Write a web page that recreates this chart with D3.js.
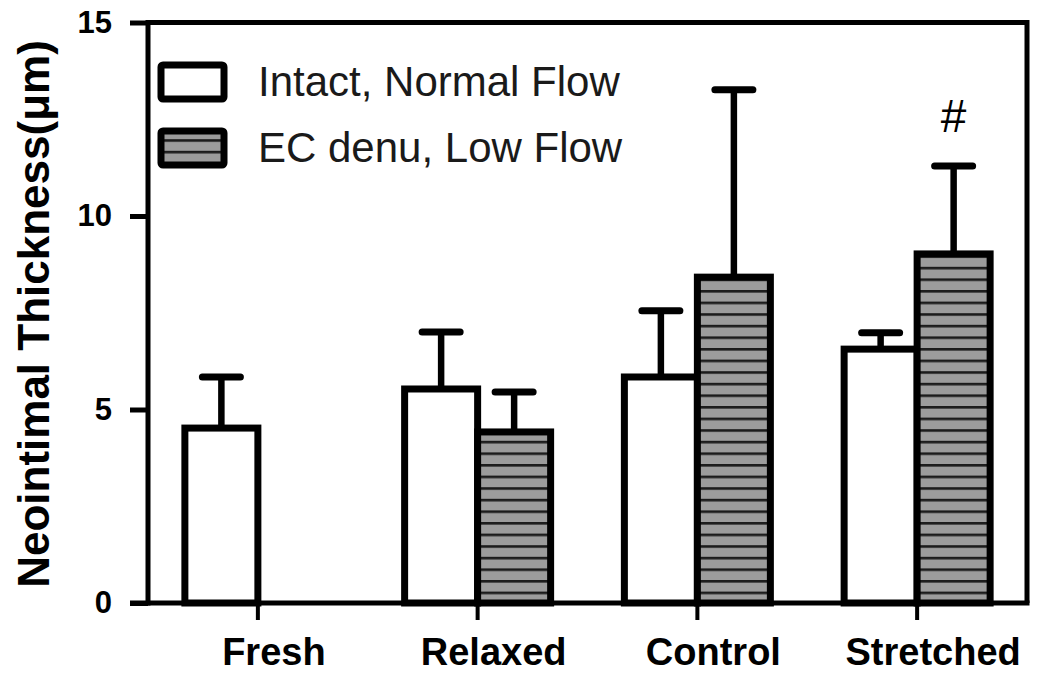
<!DOCTYPE html>
<html>
<head>
<meta charset="utf-8">
<script src="https://cdn.jsdelivr.net/npm/d3@7"></script>
<style>
  html, body { margin: 0; padding: 0; background: #fff; }
  svg { display: block; }
  text { font-family: "Liberation Sans", Arial, sans-serif; }
</style>
</head>
<body>
<svg id="chart" width="1050" height="679"></svg>
<script>
// ---- data ----
const categories = ["Fresh", "Relaxed", "Control", "Stretched"];
const seriesNames = ["Intact, Normal Flow", "EC denu, Low Flow"];
const intactMean = [4.52, 5.53, 5.84, 6.56];
const intactSD   = [1.32, 1.47, 1.71, 0.42];
const denuMean   = [null, 4.42, 8.42, 9.02];
const denuSD     = [null, 1.03, 4.84, 2.27];
const yTicks = [0, 5, 10, 15];
const significance = [null, null, null, "#"];
const yTitle = "Neointimal Thickness(\u03bcm)";

// ---- layout ----
const svg = d3.select("#chart");
const mLeft = 148, mRight = 1027, mTop = 22.5, mBottom = 603;
const barW = 73;

const x = d3.scaleBand().domain(categories).range([mLeft, mRight]).padding(0);
const bw = x.bandwidth();
const xSub = d3.scaleBand().domain(seriesNames).range([bw / 2 - barW, bw / 2 + barW]).padding(0);
const y = d3.scaleLinear().domain([0, 15]).range([mBottom, mTop]);

// hatch pattern
const defs = svg.append("defs");
const pat = defs.append("pattern").attr("id", "hatch")
  .attr("patternUnits", "userSpaceOnUse").attr("width", 20).attr("height", 11.6)
  .attr("y", 0);
pat.append("rect").attr("width", 20).attr("height", 11.6).attr("fill", "#9c9c9c");
pat.append("rect").attr("y", 0).attr("width", 20).attr("height", 2.6).attr("fill", "#1c1c1c");

const rows = [];
categories.forEach((c, i) => {
  rows.push({cat: c, s: seriesNames[0], v: intactMean[i], sd: intactSD[i], fill: "#ffffff"});
  if (denuMean[i] != null)
    rows.push({cat: c, s: seriesNames[1], v: denuMean[i], sd: denuSD[i], fill: "url(#hatch)"});
});

// error bars
const eg = svg.append("g");
rows.forEach(d => {
  const cx = x(d.cat) + xSub(d.s) + barW / 2;
  eg.append("line").attr("x1", cx).attr("x2", cx)
    .attr("y1", y(d.v)).attr("y2", y(d.v + d.sd))
    .attr("stroke", "#000").attr("stroke-width", 6.5);
  eg.append("line").attr("x1", cx - 19).attr("x2", cx + 19)
    .attr("y1", y(d.v + d.sd)).attr("y2", y(d.v + d.sd))
    .attr("stroke", "#000").attr("stroke-width", 7).attr("stroke-linecap", "round");
});

// bars
svg.append("g").selectAll("rect").data(rows).join("rect")
  .attr("x", d => x(d.cat) + xSub(d.s))
  .attr("y", d => y(d.v))
  .attr("width", barW)
  .attr("height", d => y(0) - y(d.v))
  .attr("fill", d => d.fill)
  .attr("stroke", "#000")
  .attr("stroke-width", 7)
  .attr("stroke-linejoin", "miter");

// frame (top and right)
svg.append("path")
  .attr("d", `M${mLeft},${mTop}H${mRight}V${mBottom}`)
  .attr("fill", "none").attr("stroke", "#000").attr("stroke-width", 5);

// y axis
const yAxis = svg.append("g").attr("transform", `translate(${mLeft},0)`)
  .call(d3.axisLeft(y).tickValues(yTicks).tickSize(18).tickSizeOuter(0).tickPadding(18));
yAxis.attr("font-size", null).attr("font-family", null);
yAxis.selectAll("path, line").attr("stroke", "#000").attr("stroke-width", 5);
yAxis.selectAll("text")
  .style("font-size", "31px").style("font-weight", "bold")
  .style("font-family", "'Liberation Sans', Arial, sans-serif")
  .attr("fill", "#000");
yAxis.select(".domain").attr("d", `M0,${mBottom + 2.5}V${mTop - 2.5}`);

// x axis
const xAxis = svg.append("g").attr("transform", `translate(0,${mBottom})`)
  .call(d3.axisBottom(x).tickSize(17).tickSizeOuter(0).tickPadding(0));
xAxis.attr("font-size", null).attr("font-family", null);
xAxis.select(".domain").attr("d", `M${mLeft - 18},0H${mRight + 2.5}`)
  .attr("stroke", "#000").attr("stroke-width", 5);
xAxis.selectAll("line").attr("stroke", "#000").attr("stroke-width", 4);
xAxis.selectAll("text")
  .style("font-size", "38px").style("font-weight", "bold")
  .style("font-family", "'Liberation Sans', Arial, sans-serif")
  .attr("fill", "#000")
  .attr("dy", null).attr("y", 62).attr("dx", 16);

// significance marks
categories.forEach((c, i) => {
  if (!significance[i]) return;
  const cx = x(c) + xSub(seriesNames[1]) + barW / 2;
  svg.append("text").attr("x", cx).attr("y", 132)
    .attr("text-anchor", "middle").attr("font-size", 46)
    .text(significance[i]);
});

// y title
svg.append("text")
  .attr("transform", `translate(49,314) rotate(-90)`)
  .attr("text-anchor", "middle")
  .attr("font-size", 44).attr("font-weight", "bold")
  .text(yTitle);

// legend
const lg = svg.append("g");
const legFills = ["#ffffff", "url(#hatch)"];
const legY = [65, 131];
seriesNames.forEach((s, i) => {
  lg.append("rect").attr("x", 161).attr("y", legY[i]).attr("width", 63).attr("height", 34)
    .attr("fill", legFills[i]).attr("stroke", "#000").attr("stroke-width", 7)
    .attr("rx", 2);
  lg.append("text").attr("x", 258).attr("y", legY[i] + 31)
    .attr("font-size", 42).attr("fill", "#1a1a1a").text(s);
});
</script>
</body>
</html>
